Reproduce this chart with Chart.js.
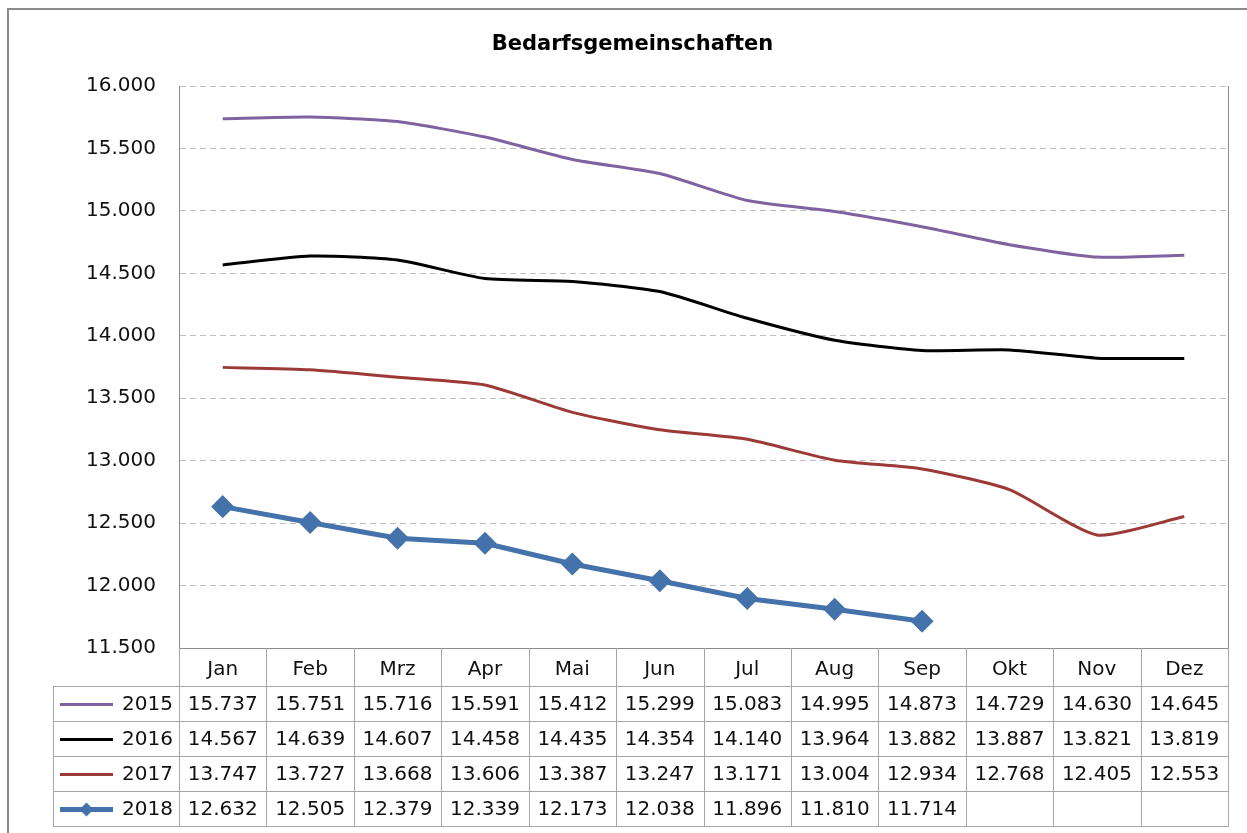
<!DOCTYPE html>
<html lang="de">
<head>
<meta charset="utf-8">
<title>Bedarfsgemeinschaften</title>
<script src="https://cdn.jsdelivr.net/npm/chart.js@4/dist/chart.umd.min.js"></script>
<style>
    html, body { margin: 0; padding: 0; background: #fff; overflow: hidden; }
    #rahmen {
        position: absolute; left: 7px; top: 8px;
        width: 1400px; height: 1000px;
        border: 2px solid #8a8a8a;
    }
    #diagramm { position: absolute; left: 0; top: 0; }
</style>
</head>
<body>
<div id="rahmen"></div>
<canvas id="diagramm" width="1247" height="833"></canvas>
<script>
// Monate (Kategorien)
const monate = ["Jan", "Feb", "Mrz", "Apr", "Mai", "Jun", "Jul", "Aug", "Sep", "Okt", "Nov", "Dez"];

// Werte je Jahr
const werte2015 = [15737, 15751, 15716, 15591, 15412, 15299, 15083, 14995, 14873, 14729, 14630, 14645];
const werte2016 = [14567, 14639, 14607, 14458, 14435, 14354, 14140, 13964, 13882, 13887, 13821, 13819];
const werte2017 = [13747, 13727, 13668, 13606, 13387, 13247, 13171, 13004, 12934, 12768, 12405, 12553];
const werte2018 = [12632, 12505, 12379, 12339, 12173, 12038, 11896, 11810, 11714, null, null, null];

// Achse
const yMin = 11500;
const yMax = 16000;
const ySchritt = 500;

const schrift = "'DejaVu Sans', sans-serif";
Chart.defaults.font.family = schrift;

// Zahl mit Tausenderpunkt
function formatZahl(v) {
    return String(v).replace(/\B(?=(\d{3})+(?!\d))/g, ".");
}

// Datentabelle unter dem Diagramm (wie in Excel)
const tabellePlugin = {
    id: "datentabelle",
    afterDraw(chart) {
        const { ctx, chartArea, scales: { x } } = chart;
        const kopfOben = chartArea.bottom;
        const kopfHoehe = 38;
        const zeilenHoehe = 35;
        const links = 53;
        const breite = x.getPixelForValue(1) - x.getPixelForValue(0);
        const zeilenOben = kopfOben + kopfHoehe;
        const anzahl = chart.data.datasets.length;
        const unten = zeilenOben + anzahl * zeilenHoehe;

        ctx.save();
        // rechter Rand der Zeichenfläche
        ctx.strokeStyle = "#8c8c8c";
        ctx.lineWidth = 1;
        ctx.beginPath();
        ctx.moveTo(chartArea.right + 0.5, chartArea.top);
        ctx.lineTo(chartArea.right + 0.5, kopfOben);
        ctx.stroke();

        // Tabellenlinien
        ctx.strokeStyle = "#a6a6a6";
        ctx.beginPath();
        for (let i = 0; i <= monate.length; i++) {
            const px = Math.round(chartArea.left + i * breite) + 0.5;
            ctx.moveTo(px, kopfOben);
            ctx.lineTo(px, unten);
        }
        ctx.moveTo(links + 0.5, zeilenOben);
        ctx.lineTo(links + 0.5, unten);
        for (let r = 0; r <= anzahl; r++) {
            const py = Math.round(zeilenOben + r * zeilenHoehe) + 0.5;
            ctx.moveTo(links, py);
            ctx.lineTo(chartArea.right + 1, py);
        }
        ctx.stroke();

        // Zeilen: Legende + Werte
        ctx.font = "20px " + schrift;
        ctx.fillStyle = "#111";
        ctx.textBaseline = "middle";
        chart.data.datasets.forEach((ds, r) => {
            const my = zeilenOben + r * zeilenHoehe + zeilenHoehe / 2 + 1;

            ctx.strokeStyle = ds.borderColor;
            ctx.lineWidth = ds.borderWidth;
            ctx.beginPath();
            ctx.moveTo(60, my);
            ctx.lineTo(113, my);
            ctx.stroke();
            if (ds.pointRadius > 0) {
                const d = 7;
                ctx.fillStyle = ds.pointBackgroundColor;
                ctx.beginPath();
                ctx.moveTo(86.5, my - d);
                ctx.lineTo(86.5 + d, my);
                ctx.lineTo(86.5, my + d);
                ctx.lineTo(86.5 - d, my);
                ctx.closePath();
                ctx.fill();
            }

            ctx.fillStyle = "#111";
            ctx.textAlign = "right";
            ctx.fillText(ds.label, chartArea.left - 6, my);

            ctx.textAlign = "center";
            ds.data.forEach((v, i) => {
                if (v === null) return;
                ctx.fillText(formatZahl(v), x.getPixelForValue(i), my);
            });
        });
        ctx.restore();
    }
};

const ctx = document.getElementById("diagramm").getContext("2d");
new Chart(ctx, {
    type: "line",
    data: {
        labels: monate,
        datasets: [
            {
                label: "2015",
                data: werte2015,
                borderColor: "#7f63a1",
                borderWidth: 3,
                pointRadius: 0,
                tension: 0.2
            },
            {
                label: "2016",
                data: werte2016,
                borderColor: "#000000",
                borderWidth: 3,
                pointRadius: 0,
                tension: 0.2
            },
            {
                label: "2017",
                data: werte2017,
                borderColor: "#9b3a37",
                borderWidth: 3,
                pointRadius: 0,
                tension: 0.2
            },
            {
                label: "2018",
                data: werte2018,
                borderColor: "#4472aa",
                backgroundColor: "#4472aa",
                pointBackgroundColor: "#4472aa",
                pointBorderColor: "#4472aa",
                borderWidth: 5,
                pointStyle: "rectRot",
                pointRadius: 8,
                tension: 0
            }
        ]
    },
    options: {
        responsive: false,
        animation: false,
        devicePixelRatio: 1,
        layout: {
            padding: { left: 37, top: 0, right: 19, bottom: 147 }
        },
        plugins: {
            legend: { display: false },
            tooltip: { enabled: false },
            title: {
                display: true,
                text: "Bedarfsgemeinschaften",
                color: "#000",
                font: { size: 21, weight: "bold", family: schrift },
                padding: { top: 32, bottom: 28.8 }
            }
        },
        scales: {
            x: {
                offset: true,
                grid: { display: false },
                border: { color: "#8c8c8c", width: 1 },
                ticks: {
                    color: "#111",
                    font: { size: 20 },
                    padding: 2,
                    maxRotation: 0,
                    autoSkip: false
                },
                afterFit(scale) { scale.height = 38; }
            },
            y: {
                min: yMin,
                max: yMax,
                grid: { color: "#bfbfbf", lineWidth: 1, drawTicks: false },
                border: { color: "#8c8c8c", width: 1, dash: [6, 4] },
                ticks: {
                    stepSize: ySchritt,
                    color: "#111",
                    font: { size: 20 },
                    padding: 23,
                    callback: (v) => formatZahl(v)
                },
                afterFit(scale) { scale.width = 142; }
            }
        }
    },
    plugins: [tabellePlugin]
});
</script>
</body>
</html>
